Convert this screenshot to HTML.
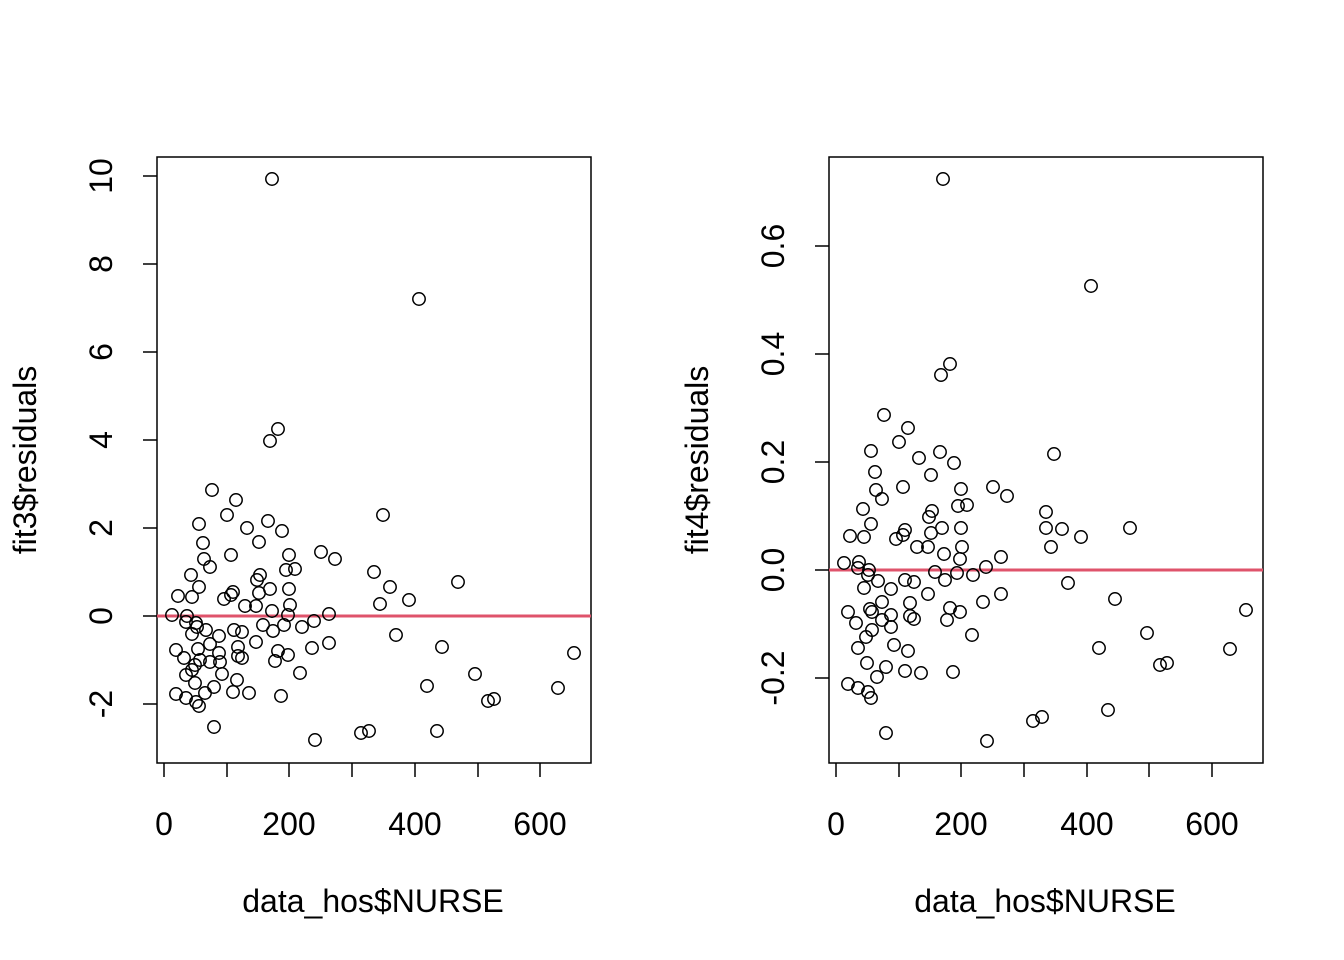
<!DOCTYPE html>
<html><head><meta charset="utf-8"><style>body{margin:0;background:#fff}svg{display:block}text{font-family:"Liberation Sans",Arial,sans-serif;fill:#000}</style></head><body>
<svg id="s" width="1344" height="960" xmlns="http://www.w3.org/2000/svg">
<g stroke="#000" stroke-width="1.5" fill="none">
<rect x="157" y="157" width="434" height="606"/>
<rect x="829" y="157" width="434" height="606"/>
<path d="M164,763V777M227,763V777M289,763V777M352,763V777M415,763V777M478,763V777M540,763V777"/>
<path d="M157,176H143M157,264H143M157,352H143M157,440H143M157,528H143M157,616H143M157,704H143"/>
<path d="M836,763V777M899,763V777M961,763V777M1024,763V777M1087,763V777M1149,763V777M1212,763V777"/>
<path d="M829,678H815M829,570H815M829,462H815M829,354H815M829,246H815"/>
</g>
<line x1="157" y1="616" x2="591" y2="616" stroke="#DF536B" stroke-width="3"/>
<line x1="829" y1="570" x2="1263" y2="570" stroke="#DF536B" stroke-width="3"/>
<g font-size="32" text-anchor="middle">
<text x="164" y="835">0</text><text x="289" y="835">200</text><text x="415" y="835">400</text><text x="540" y="835">600</text>
<text x="836" y="835">0</text><text x="961" y="835">200</text><text x="1087" y="835">400</text><text x="1212" y="835">600</text>
<text x="373" y="912">data_hos$NURSE</text><text x="1045" y="912">data_hos$NURSE</text>
<g transform="translate(112,0)">
<text transform="translate(0,176) rotate(-90)">10</text><text transform="translate(0,264) rotate(-90)">8</text><text transform="translate(0,352) rotate(-90)">6</text><text transform="translate(0,440) rotate(-90)">4</text><text transform="translate(0,528) rotate(-90)">2</text><text transform="translate(0,616) rotate(-90)">0</text><text transform="translate(0,704) rotate(-90)">-2</text>
</g>
<g transform="translate(784,0)">
<text transform="translate(0,678) rotate(-90)">-0.2</text><text transform="translate(0,570) rotate(-90)">0.0</text><text transform="translate(0,462) rotate(-90)">0.2</text><text transform="translate(0,354) rotate(-90)">0.4</text><text transform="translate(0,246) rotate(-90)">0.6</text>
</g>
<text transform="translate(36,460) rotate(-90)">fit3$residuals</text>
<text transform="translate(708,460) rotate(-90)">fit4$residuals</text>
</g>
<g id="pts" stroke="#000" stroke-width="1.5" fill="none"></g>
</svg>
<script>
var L=[212,490,236,500,227,515,199,524,247,528,268,521,282,531,203,543,259,542,231,555,321,552,335,559,289,555,204,559,210,567,286,570,295,569,191,575,260,575,257,580,199,587,178,596,192,597,233,592,231,595,224,599,259,593,270,589,289,589,245,606,256,606,290,605,272,611,172,615,187,616,288,615,329,614,186,622,196,623,197,627,206,630,192,634,219,636,234,630,242,632,263,625,273,631,284,625,302,627,314,621,256,642,329,643,312,648,176,650,184,658,198,649,210,644,219,653,238,647,238,656,242,658,278,651,288,655,275,661,200,660,210,662,220,662,195,665,192,670,186,675,222,674,300,673,237,680,195,683,214,687,233,692,249,693,281,696,176,694,186,698,205,693,196,702,199,706,214,727,315,740,
272,179,419,299,278,429,270,441,383,515,374,572,390,587,380,604,458,582,409,600,396,635,442,647,475,674,574,653,427,686,558,688,488,701,494,699,361,733,369,731,437,731];
var R=[884,415,908,428,899,442,871,451,919,458,940,452,954,463,875,472,931,475,903,487,993,487,1007,496,961,489,876,490,882,499,958,506,967,505,863,509,932,511,929,517,871,524,850,536,864,537,905,530,903,535,896,539,931,533,942,528,961,528,917,547,928,547,962,547,944,554,960,559,844,563,859,562,1001,557,858,568,869,570,868,575,878,581,864,588,891,589,905,580,914,582,935,572,945,580,957,573,973,575,986,567,928,594,1001,594,983,602,848,612,856,623,870,609,882,602,891,615,910,603,910,616,914,619,950,608,960,612,947,620,872,612,882,620,891,627,872,630,866,637,858,648,894,645,972,635,908,651,867,663,886,667,905,671,921,673,953,672,848,684,858,688,877,677,868,692,871,698,886,733,987,741,
943,179,1091,286,950,364,941,375,1054,454,1046,512,1062,529,1046,528,1051,547,1081,537,1130,528,1068,583,1115,599,1147,633,1099,648,1160,665,1167,663,1230,649,1246,610,1108,710,1033,721,1042,717];
var g=document.getElementById('pts'),h='';
[L,R].forEach(function(a){for(var i=0;i<a.length;i+=2)h+='<circle cx="'+a[i]+'" cy="'+a[i+1]+'" r="6.2"/>';});
g.innerHTML=h;
</script>
</body></html>
